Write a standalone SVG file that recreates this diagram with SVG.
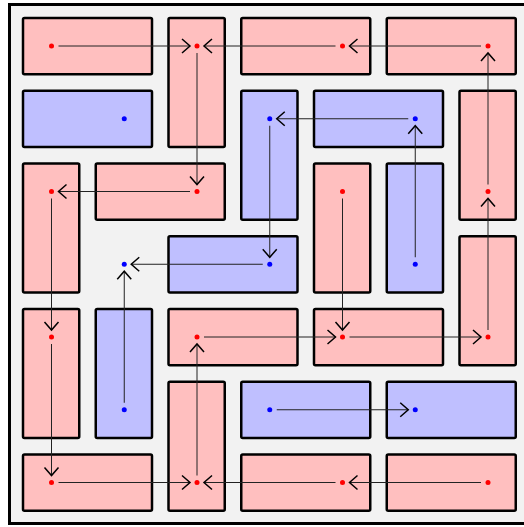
<svg xmlns="http://www.w3.org/2000/svg" width="524" height="527" viewBox="0 0 524 527">
<defs>
<style>
.p{fill:#FFBFBF;stroke:#000;stroke-width:2.5}
.b{fill:#BFBFFF;stroke:#000;stroke-width:2.5}
.rd{fill:#FF0000}
.bd{fill:#0000FF}
.c line{stroke:#222;stroke-width:1;marker-end:url(#ah)}
</style>
<marker id="ah" markerUnits="userSpaceOnUse" viewBox="-10 -9 12 18" refX="0" refY="0" markerWidth="12" markerHeight="18" orient="auto">
<path d="M-8,-7 L0,0 L-8,7" fill="none" stroke="#000" stroke-width="1.5"/>
</marker>
</defs>
<rect x="9.5" y="4.5" width="520" height="519" fill="#F2F2F2" stroke="#000" stroke-width="3"/>
<g id="n1"><rect class="p" x="23" y="18" width="129" height="56.25" rx="1.5"/><circle class="rd" cx="51.5" cy="46" r="2.5"/></g>
<g id="n2"><rect class="p" x="168.5" y="18" width="56.25" height="129" rx="1.5"/><circle class="rd" cx="197" cy="46" r="2.5"/></g>
<g id="n3"><rect class="p" x="241.25" y="18" width="129" height="56.25" rx="1.5"/><circle class="rd" cx="342.5" cy="46" r="2.5"/></g>
<g id="n4"><rect class="p" x="386.75" y="18" width="129" height="56.25" rx="1.5"/><circle class="rd" cx="488" cy="46" r="2.5"/></g>
<g id="n5"><rect class="b" x="23" y="90.75" width="129" height="56.25" rx="1.5"/><circle class="bd" cx="124.25" cy="118.75" r="2.5"/></g>
<g id="n6"><rect class="b" x="241.25" y="90.75" width="56.25" height="129" rx="1.5"/><circle class="bd" cx="269.75" cy="118.75" r="2.5"/></g>
<g id="n7"><rect class="b" x="314" y="90.75" width="129" height="56.25" rx="1.5"/><circle class="bd" cx="415.25" cy="118.75" r="2.5"/></g>
<g id="n8"><rect class="p" x="459.5" y="90.75" width="56.25" height="129" rx="1.5"/><circle class="rd" cx="488" cy="191.5" r="2.5"/></g>
<g id="n9"><rect class="p" x="23" y="163.5" width="56.25" height="129" rx="1.5"/><circle class="rd" cx="51.5" cy="191.5" r="2.5"/></g>
<g id="n10"><rect class="p" x="95.75" y="163.5" width="129" height="56.25" rx="1.5"/><circle class="rd" cx="197" cy="191.5" r="2.5"/></g>
<g id="n11"><rect class="p" x="314" y="163.5" width="56.25" height="129" rx="1.5"/><circle class="rd" cx="342.5" cy="191.5" r="2.5"/></g>
<g id="n12"><rect class="b" x="386.75" y="163.5" width="56.25" height="129" rx="1.5"/><circle class="bd" cx="415.25" cy="264.25" r="2.5"/></g>
<g id="n13"><rect class="b" x="168.5" y="236.25" width="129" height="56.25" rx="1.5"/><circle class="bd" cx="269.75" cy="264.25" r="2.5"/></g>
<g id="n14"><circle class="bd" cx="124.25" cy="264.25" r="2.5"/></g>
<g id="n15"><rect class="p" x="459.5" y="236.25" width="56.25" height="129" rx="1.5"/><circle class="rd" cx="488" cy="337" r="2.5"/></g>
<g id="n16"><rect class="p" x="23" y="309" width="56.25" height="129" rx="1.5"/><circle class="rd" cx="51.5" cy="337" r="2.5"/></g>
<g id="n17"><rect class="b" x="95.75" y="309" width="56.25" height="129" rx="1.5"/><circle class="bd" cx="124.25" cy="409.75" r="2.5"/></g>
<g id="n18"><rect class="p" x="168.5" y="309" width="129" height="56.25" rx="1.5"/><circle class="rd" cx="197" cy="337" r="2.5"/></g>
<g id="n19"><rect class="p" x="314" y="309" width="129" height="56.25" rx="1.5"/><circle class="rd" cx="342.5" cy="337" r="2.5"/></g>
<g id="n20"><rect class="p" x="168.5" y="381.75" width="56.25" height="129" rx="1.5"/><circle class="rd" cx="197" cy="482.5" r="2.5"/></g>
<g id="n21"><rect class="b" x="241.25" y="381.75" width="129" height="56.25" rx="1.5"/><circle class="bd" cx="269.75" cy="409.75" r="2.5"/></g>
<g id="n22"><rect class="b" x="386.75" y="381.75" width="129" height="56.25" rx="1.5"/><circle class="bd" cx="415.25" cy="409.75" r="2.5"/></g>
<g id="n23"><rect class="p" x="23" y="454.5" width="129" height="56.25" rx="1.5"/><circle class="rd" cx="51.5" cy="482.5" r="2.5"/></g>
<g id="n24"><rect class="p" x="241.25" y="454.5" width="129" height="56.25" rx="1.5"/><circle class="rd" cx="342.5" cy="482.5" r="2.5"/></g>
<g id="n25"><rect class="p" x="386.75" y="454.5" width="129" height="56.25" rx="1.5"/><circle class="rd" cx="488" cy="482.5" r="2.5"/></g>
<g id="connectors" class="c">
<line x1="58.5" y1="46" x2="190" y2="46"/>
<line x1="335.5" y1="46" x2="204" y2="46"/>
<line x1="481" y1="46" x2="349.5" y2="46"/>
<line x1="197" y1="53" x2="197" y2="184.5"/>
<line x1="190" y1="191.5" x2="58.5" y2="191.5"/>
<line x1="51.5" y1="198.5" x2="51.5" y2="330"/>
<line x1="51.5" y1="344" x2="51.5" y2="475.5"/>
<line x1="58.5" y1="482.5" x2="190" y2="482.5"/>
<line x1="335.5" y1="482.5" x2="204" y2="482.5"/>
<line x1="481" y1="482.5" x2="349.5" y2="482.5"/>
<line x1="197" y1="475.5" x2="197" y2="344"/>
<line x1="204" y1="337" x2="335.5" y2="337"/>
<line x1="342.5" y1="198.5" x2="342.5" y2="330"/>
<line x1="349.5" y1="337" x2="481" y2="337"/>
<line x1="488" y1="330" x2="488" y2="198.5"/>
<line x1="488" y1="184.5" x2="488" y2="53"/>
<line x1="408.25" y1="118.75" x2="276.75" y2="118.75"/>
<line x1="415.25" y1="257.25" x2="415.25" y2="125.75"/>
<line x1="269.75" y1="125.75" x2="269.75" y2="257.25"/>
<line x1="262.75" y1="264.25" x2="131.25" y2="264.25"/>
<line x1="124.25" y1="402.75" x2="124.25" y2="271.25"/>
<line x1="276.75" y1="409.75" x2="408.25" y2="409.75"/>
</g>
</svg>
